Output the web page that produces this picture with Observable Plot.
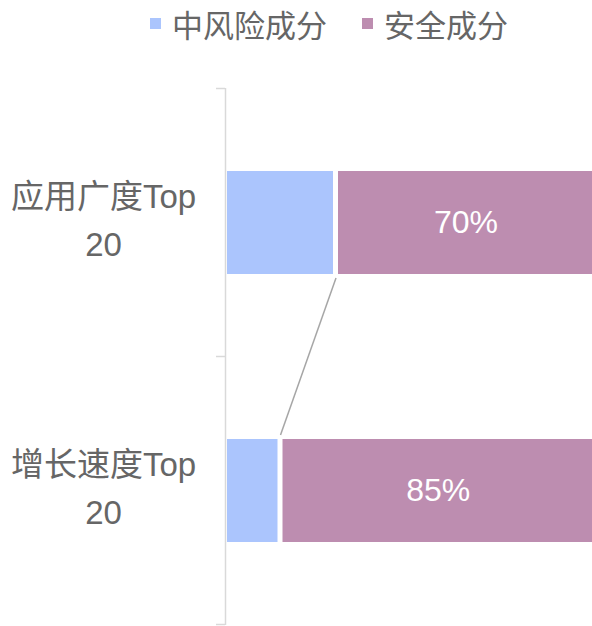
<!DOCTYPE html>
<html><head><meta charset="utf-8">
<script src="https://cdn.jsdelivr.net/npm/d3@7"></script>
<script src="https://cdn.jsdelivr.net/npm/@observablehq/plot@0.6"></script>
<style>
body{margin:0;background:#fff;font-family:"Liberation Sans","Noto Sans CJK SC",sans-serif;}
#legend{position:relative;height:50px;width:592px;}
.item{position:absolute;top:0;height:47px;display:flex;align-items:center;font-size:31px;color:#666;white-space:nowrap;}
.sw{width:11px;height:11px;margin-right:11px;}
#chart svg{display:block;}
</style></head><body>
<div id="legend"></div><div id="chart"></div>
<script>
const categories = ["应用广度Top20", "增长速度Top20"];
const tickLabels = ["应用广度Top\n20", "增长速度Top\n20"];
const series = ["中风险成分", "安全成分"];
const midRisk = [30, 15];
const safe = [70, 85];
const colors = ["#abc5fd", "#bd8db0"];

const data = [];
categories.forEach((c, i) => {
  data.push({cat: c, series: series[0], value: midRisk[i]});
  data.push({cat: c, series: series[1], value: safe[i]});
});

// legend
const legend = document.getElementById("legend");
const legendLeft = [150, 362];
series.forEach((s, i) => {
  const it = document.createElement("div");
  it.className = "item";
  it.style.left = legendLeft[i] + "px";
  it.innerHTML = `<span class="sw" style="background:${colors[i]}"></span><span>${s}</span>`;
  legend.appendChild(it);
});

const font = `"Liberation Sans","Noto Sans CJK SC",sans-serif`;
const chart = Plot.plot({
  width: 592,
  height: 576,
  marginLeft: 225,
  marginRight: -3,
  marginTop: 38,
  marginBottom: 1,
  style: {fontFamily: font, background: "white", overflow: "hidden"},
  x: {domain: [0, 100], axis: null},
  y: {type: "band", domain: categories, paddingInner: 0.616, paddingOuter: 0.308, axis: null, label: null},
  color: {domain: series, range: colors},
  marks: [
    Plot.barX(data, Plot.stackX({x: "value", y: "cat", fill: "series", insetLeft: 2, insetRight: 3})),
    Plot.text(data, Plot.stackX({
      x: "value", y: "cat", z: "series",
      text: d => d.series === series[1] ? d.value + "%" : "",
      fill: "white", fontSize: 32
    })),
    Plot.ruleX([0], {stroke: "#d9d9d9", strokeWidth: 1.5}),
    Plot.axisY({
      label: null,
      tickSize: 0, tickPadding: 0, textAnchor: "middle", dx: -122, dy: -6,
      fontSize: 33, lineHeight: 1.45, fill: "#666",
      tickFormat: d => tickLabels[categories.indexOf(d)]
    })
  ]
});
document.getElementById("chart").appendChild(chart);

// boundary ticks and connector line drawn from the plot's own scales
const xs = chart.scale("x"), ys = chart.scale("y");
const svg = d3.select(chart);
const half = (ys.step - ys.bandwidth) / 2;
const bounds = categories.map(c => ys.apply(c) - half);
bounds.push(ys.apply(categories[categories.length - 1]) + ys.bandwidth + half);
const x0 = xs.apply(0);
svg.append("g").selectAll("line").data(bounds).join("line")
  .attr("x1", x0 - 9).attr("x2", x0).attr("y1", d => d).attr("y2", d => d)
  .attr("stroke", "#d9d9d9").attr("stroke-width", 1.5);
svg.append("line")
  .attr("x1", xs.apply(midRisk[0])).attr("y1", ys.apply(categories[0]) + ys.bandwidth + 4)
  .attr("x2", xs.apply(midRisk[1])).attr("y2", ys.apply(categories[1]) - 4)
  .attr("stroke", "#a6a6a6").attr("stroke-width", 1.5);
</script>
</body></html>
